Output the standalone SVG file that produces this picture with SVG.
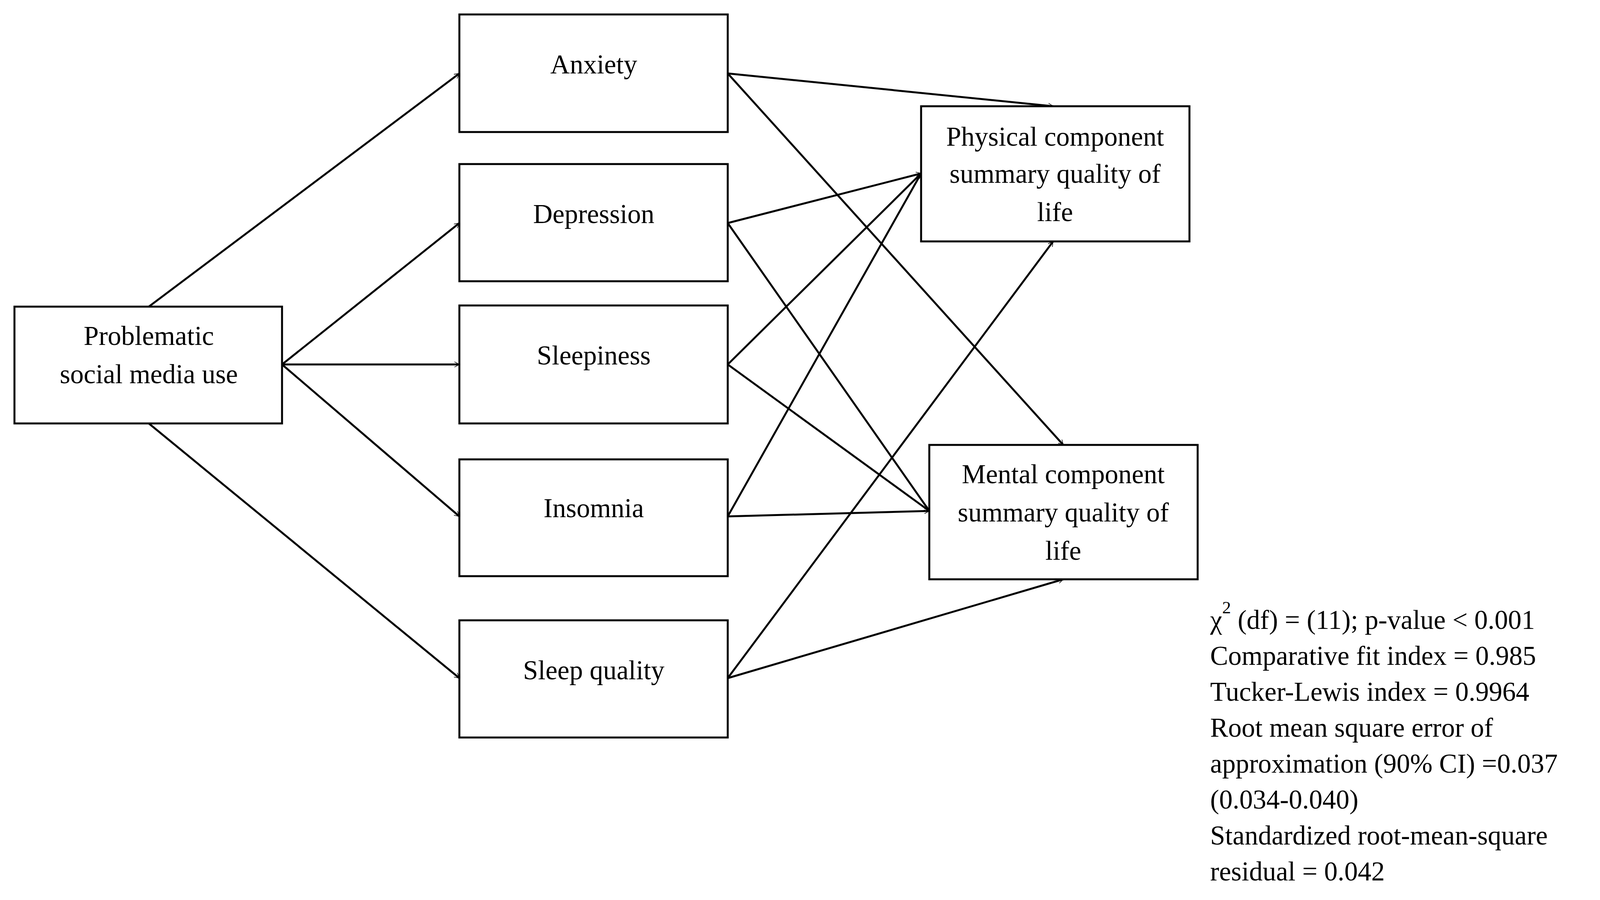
<svg xmlns="http://www.w3.org/2000/svg" width="4144" height="2304" viewBox="0 0 4144 2304">
<style>
.b{fill:#fff;stroke:#000;stroke-width:5}
.t{font-family:"Liberation Serif","Times New Roman",serif;font-size:69px;fill:#000;text-anchor:middle}
.s{font-family:"Liberation Serif","Times New Roman",serif;font-size:69px;fill:#000}
.c line{stroke:#000;stroke-width:5;marker-end:url(#a)}
</style>
<defs><marker id="a" markerWidth="14" markerHeight="14" refX="13" refY="7" orient="auto" markerUnits="userSpaceOnUse" viewBox="0 0 14 14"><path d="M0,0 L13,7 L0,14" fill="none" stroke="#000" stroke-width="1.5"/></marker>
<marker id="a2" markerWidth="50" markerHeight="40" refX="48" refY="20" orient="auto" markerUnits="userSpaceOnUse"><path d="M2,2 L48,20 L2,38" fill="none" stroke="#000" stroke-width="5"/></marker></defs>
<rect width="4144" height="2304" fill="#fff"/>
<g class="c" style="marker-end:url(#a2)">
<line x1="381" y1="785" x2="1176" y2="188" marker-end="url(#a2)"/>
<line x1="722" y1="933" x2="1176" y2="571" marker-end="url(#a2)"/>
<line x1="722" y1="933" x2="1176" y2="933" marker-end="url(#a2)"/>
<line x1="722" y1="933" x2="1176" y2="1322" marker-end="url(#a2)"/>
<line x1="381" y1="1084" x2="1176" y2="1736" marker-end="url(#a2)"/>
<line x1="1863" y1="188" x2="2696" y2="272" marker-end="url(#a2)"/>
<line x1="1863" y1="188" x2="2722" y2="1139" marker-end="url(#a2)"/>
<line x1="1863" y1="571" x2="2358" y2="444" marker-end="url(#a2)"/>
<line x1="1863" y1="571" x2="2379" y2="1308" marker-end="url(#a2)"/>
<line x1="1863" y1="933" x2="2358" y2="444" marker-end="url(#a2)"/>
<line x1="1863" y1="933" x2="2379" y2="1308" marker-end="url(#a2)"/>
<line x1="1863" y1="1322" x2="2358" y2="444" marker-end="url(#a2)"/>
<line x1="1863" y1="1322" x2="2379" y2="1308" marker-end="url(#a2)"/>
<line x1="1863" y1="1736" x2="2696" y2="618" marker-end="url(#a2)"/>
<line x1="1863" y1="1736" x2="2722" y2="1483" marker-end="url(#a2)"/>
</g>
<g id="psmu"><rect class="b" x="37" y="785" width="685" height="299"/><text class="t" x="381" y="883">Problematic</text><text class="t" x="381" y="981">social media use</text></g>
<g id="anxiety"><rect class="b" x="1176" y="37" width="687" height="301"/><text class="t" x="1520" y="188">Anxiety</text></g>
<g id="depression"><rect class="b" x="1176" y="420" width="687" height="300"/><text class="t" x="1520" y="571">Depression</text></g>
<g id="sleepiness"><rect class="b" x="1176" y="782" width="687" height="302"/><text class="t" x="1520" y="933">Sleepiness</text></g>
<g id="insomnia"><rect class="b" x="1176" y="1176" width="687" height="299"/><text class="t" x="1520" y="1324">Insomnia</text></g>
<g id="sleepquality"><rect class="b" x="1176" y="1588" width="687" height="300"/><text class="t" x="1520" y="1739">Sleep quality</text></g>
<g id="physical"><rect class="b" x="2358" y="272" width="687" height="346"/><text class="t" x="2701" y="373">Physical component</text><text class="t" x="2701" y="468">summary quality of</text><text class="t" x="2701" y="566">life</text></g>
<g id="mental"><rect class="b" x="2379" y="1139" width="687" height="344"/><text class="t" x="2722" y="1237">Mental component</text><text class="t" x="2722" y="1335">summary quality of</text><text class="t" x="2722" y="1433">life</text></g>
<g id="stats">
<text class="s" x="3098" y="1610">χ<tspan dy="-40" font-size="45">2</tspan><tspan dy="40"> (df) = (11); p-value &lt; 0.001</tspan></text>
<text class="s" x="3098" y="1702">Comparative fit index = 0.985</text>
<text class="s" x="3098" y="1794">Tucker-Lewis index = 0.9964</text>
<text class="s" x="3098" y="1886">Root mean square error of</text>
<text class="s" x="3098" y="1978">approximation (90% CI) =0.037</text>
<text class="s" x="3098" y="2070">(0.034-0.040)</text>
<text class="s" x="3098" y="2162">Standardized root-mean-square</text>
<text class="s" x="3098" y="2254">residual = 0.042</text>
</g>
</svg>
